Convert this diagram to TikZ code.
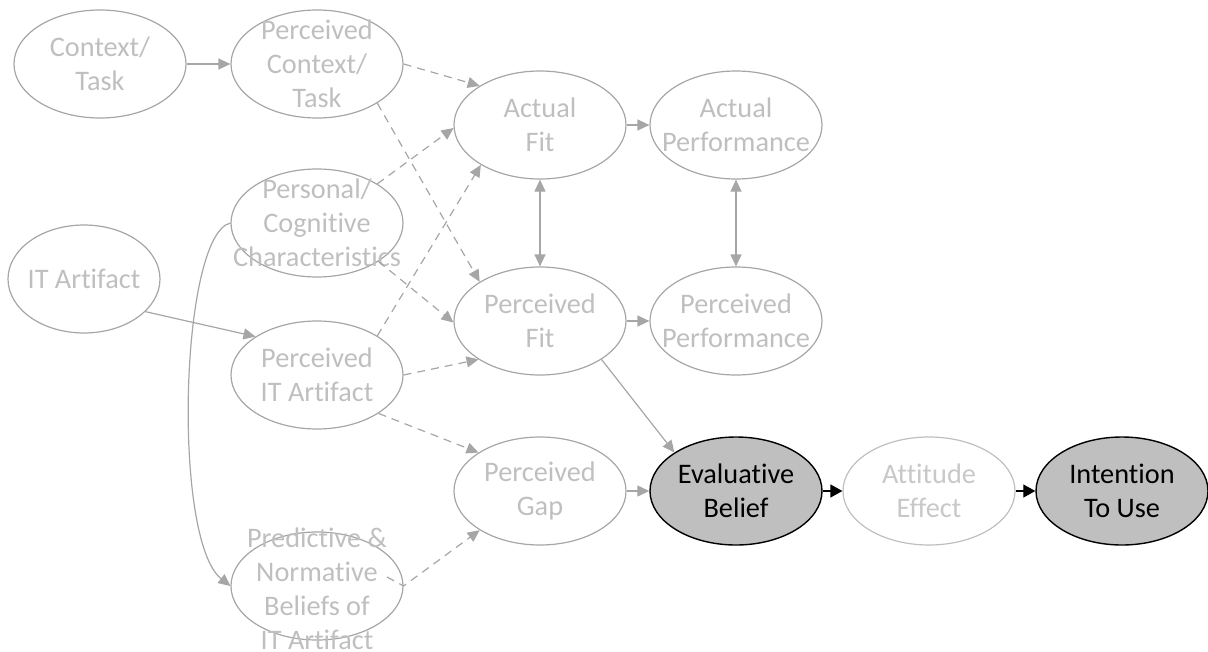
\documentclass[tikz,border=0pt]{standalone}
\usepackage{fontspec}
\setmainfont{Carlito}[Ligatures={NoCommon}]
\usetikzlibrary{shapes.geometric,arrows.meta}
\definecolor{linec}{HTML}{A6A6A6}
\definecolor{txtc}{HTML}{BFBFBF}
\definecolor{paleline}{HTML}{BFBFBF}
\definecolor{paletxt}{HTML}{C8C8C8}
\definecolor{keyfill}{HTML}{BFBFBF}
\begin{document}
\begin{tikzpicture}[x=1pt,y=-1pt,
  ell/.style={ellipse, draw=linec, line width=1.2pt, minimum width=172pt,
    minimum height=108pt, inner sep=0pt},
  keyell/.style={ell, draw=black, line width=1.4pt, fill=keyfill},
  paleell/.style={ell, draw=paleline},
  lbl/.style={align=center, text=txtc, inner sep=0pt,
    font=\fontsize{28.3}{34}\selectfont},
  keylbl/.style={lbl, text=black},
  palelbl/.style={lbl, text=paletxt},
  conn/.style={draw=linec, line width=1.2pt,
    -{Triangle[length=12pt,width=11pt]}},
  dconn/.style={conn, dash pattern=on 8pt off 6pt},
  biconn/.style={draw=linec, line width=1.2pt,
    {Triangle[length=12pt,width=11pt]}-{Triangle[length=12pt,width=11pt]}},
  blk/.style={draw=black, line width=1.2pt,
    -{Triangle[length=12pt,width=13pt]}}]
\useasboundingbox (0,0) rectangle (1208,651);

% ellipses
\node[ell] (ct)  at (100,64)  {};
\node[ell] (pct) at (317,64)  {};
\node[ell] (af)  at (540,125) {};
\node[ell] (ap)  at (736,125) {};
\node[ell] (pc)  at (317,223) {};
\node[ell, minimum width=152pt] (it) at (84,279) {};
\node[ell] (pf)  at (540,321) {};
\node[ell] (pp)  at (736,321) {};
\node[ell] (pit) at (317,375) {};
\node[ell] (pg)  at (540,491) {};
\node[keyell] (eb) at (736,491) {};
\node[paleell] (ae) at (929,491) {};
\node[keyell] (iu) at (1122,491) {};
\node[ell] (pn)  at (317,586) {};

% labels
\node[lbl] (ctl)  at (ct)  {Context/\\Task};
\node[lbl] (pctl) at (pct) {Perceived\\Context/\\Task};
\node[lbl] (afl)  at (af)  {Actual\\Fit};
\node[lbl] (apl)  at (ap)  {Actual\\Performance};
\node[lbl] (pcl)  at (pc)  {Personal/\\Cognitive\\Characteristics};
\node[lbl] (itl)  at (it)  {IT Artifact};
\node[lbl] (pfl)  at (pf)  {Perceived\\Fit};
\node[lbl] (ppl)  at (pp)  {Perceived\\Performance};
\node[lbl] (pitl) at (pit) {Perceived\\IT Artifact};
\node[lbl] (pgl)  at (pg)  {Perceived\\Gap};
\node[keylbl] (ebl) at (eb) {Evaluative\\Belief};
\node[palelbl] (ael) at (ae) {Attitude\\Effect};
\node[keylbl] (iul) at (iu) {Intention\\To Use};
\node[lbl] (pnl)  at ([yshift=-3pt]pn.center) {Predictive \&\\Normative\\Beliefs of\\IT Artifact};

% connectors
\coordinate (pntail) at (387,577);
\draw[conn] (ct.east) -- (pct.west);
\draw[dconn] (pct.east) -- (af.147);
\draw[dconn] (pct.-33) -- (pf.147);
\draw[dconn] (pc.33) -- (af.182);
\draw[dconn] (pc.-32) -- (pf.181);
\draw[conn] (it.-28) -- (pit.148);
\draw[dconn] (pit.33) -- (af.214);
\draw[dconn] (pit.east) -- (pf.212);
\draw[dconn] (pit.-32) -- (pg.148);
\draw[dconn] (pntail) -- (pn.east) -- (pg.213);
\draw[conn] (pc.west) .. controls (180,235) and (172,540) .. (pn.west);
\draw[biconn] (af.south) -- (pf.north);
\draw[biconn] (ap.south) -- (pp.north);
\draw[conn] (af.east) -- (ap.west);
\draw[conn] (pf.east) -- (pp.west);
\draw[conn] (pf.-32) -- (eb.148);
\draw[conn] (pg.east) -- (eb.west);
\draw[blk] (eb.east) -- (ae.west);
\draw[blk] (ae.east) -- (iu.west);
\end{tikzpicture}
\end{document}
